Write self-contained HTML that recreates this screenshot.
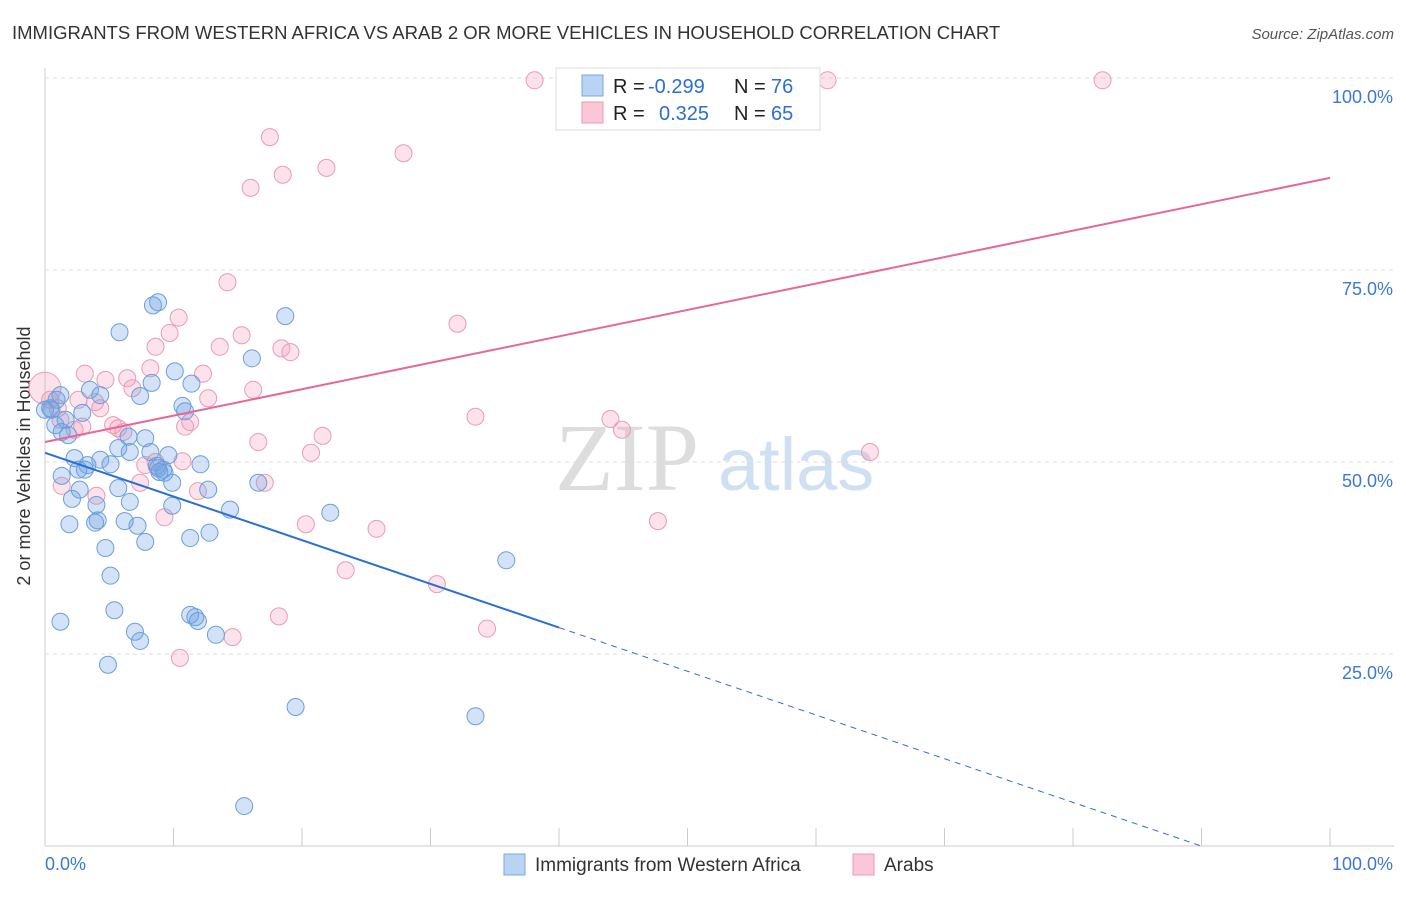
<!DOCTYPE html>
<html><head><meta charset="utf-8"><style>
body{margin:0;background:#fff;font-family:"Liberation Sans",sans-serif;}
svg text{font-family:"Liberation Sans",sans-serif;}
</style></head><body>
<svg id="chart" width="1406" height="892">
<text x="12" y="39" font-size="18.5" fill="#333">IMMIGRANTS FROM WESTERN AFRICA VS ARAB 2 OR MORE VEHICLES IN HOUSEHOLD CORRELATION CHART</text>
<text x="1394" y="39" font-size="15" fill="#555" text-anchor="end" font-style="italic">Source: ZipAtlas.com</text>
<text x="30" y="456" font-size="18" fill="#333" text-anchor="middle" transform="rotate(-90 30 456)">2 or more Vehicles in Household</text>
<g><text x="555" y="490" font-size="96" fill="#ddd" font-family="Liberation Serif" style="font-family:'Liberation Serif',serif">ZIP</text><text x="718" y="490" font-size="74" fill="#cfe0f3">atlas</text></g>
<g id="grid"></g><g id="marks"></g><g id="lines"></g>
<g>
<rect x="556" y="68" width="264" height="62" fill="#fff" stroke="#ddd"/>
<rect x="582" y="75" width="21" height="21" fill="#b9d3f3" stroke="#7aa7e0"/>
<rect x="582" y="102" width="21" height="21" fill="#f9c7d6" stroke="#ee9ab5"/>
<text x="613" y="93" font-size="20" fill="#222">R = </text><text x="648" y="93" font-size="20" fill="#2b6fd0">-0.299</text>
<text x="734" y="93" font-size="20" fill="#222">N = </text><text x="771" y="93" font-size="20" fill="#2b6fd0">76</text>
<text x="613" y="120" font-size="20" fill="#222">R = </text><text x="659" y="120" font-size="20" fill="#2b6fd0">0.325</text>
<text x="734" y="120" font-size="20" fill="#222">N = </text><text x="771" y="120" font-size="20" fill="#2b6fd0">65</text>
</g>
<g>
<rect x="504" y="854" width="21" height="21" fill="#b9d3f3" stroke="#7aa7e0"/>
<text x="535" y="871" font-size="19" fill="#333">Immigrants from Western Africa</text>
<rect x="853" y="854" width="21" height="21" fill="#f9c7d6" stroke="#ee9ab5"/>
<text x="884" y="871" font-size="19" fill="#333">Arabs</text>
</g>
</svg>
<script>
const blueX=[0.5,0.4,0.8,1.3,1.8,2.9,3.5,4.3,2.3,1.3,2.1,3.1,3.3,2.7,4.0,3.9,1.9,4.1,4.7,5.1,1.2,5.4,4.9,7.0,7.4,7.8,7.2,6.2,5.7,5.1,6.6,6.5,5.7,6.6,7.8,8.2,8.8,9.3,9.6,9.2,9.9,9.9,8.3,10.1,8.8,8.4,7.4,5.8,11.4,10.7,10.9,12.1,12.7,11.3,12.8,14.4,11.7,11.3,11.9,13.3,16.1,18.7,16.6,22.2,19.5,15.5,33.5,35.9,0.9,1.2,2.6,0,4.3,8.7,8.9,1.6];
const blueY=[56.8,57.0,54.8,53.9,53.5,56.4,59.4,58.7,50.5,48.2,45.2,49.0,49.6,46.4,44.4,42.1,41.9,42.4,38.8,35.2,29.2,30.7,23.6,27.9,26.7,39.6,41.7,42.3,46.6,49.7,44.8,53.3,51.8,51.3,53.1,51.3,49.2,48.6,50.9,49.0,47.3,44.3,60.3,61.8,70.8,70.4,58.6,66.9,60.2,57.3,56.6,49.7,46.4,40.1,40.8,43.8,29.8,30.1,29.3,27.5,63.5,69.0,47.3,43.4,18.1,5.2,16.9,37.2,58.1,58.7,49.0,56.8,50.3,49.5,48.7,55.5];
const pinkX=[0,0.4,1.2,2.3,2.9,2.6,4.3,3.1,4.7,6.4,6.8,5.3,5.7,6.1,8.6,8.2,9.7,10.4,10.9,11.3,12.3,12.7,13.6,14.2,15.3,16.2,16.6,17.1,11.9,10.7,9.3,7.8,8.6,7.4,4.0,1.3,17.5,16.0,18.5,21.9,27.9,18.4,19.1,21.6,20.7,20.3,23.4,25.8,32.1,33.5,44.0,44.9,47.7,64.2,30.5,34.4,18.2,14.6,10.5,38.1,47.1,60.9,82.3,3.9,1.0];
const pinkY=[59.6,58.1,55.5,54.2,54.6,58.1,57.0,61.5,60.7,60.9,59.6,54.8,54.4,53.9,65.0,62.2,66.8,68.8,54.6,55.2,61.5,58.3,65.0,73.4,66.5,59.4,52.6,47.3,46.2,50.1,42.8,49.6,50.0,47.3,45.6,46.9,92.3,85.7,87.4,88.3,90.2,64.8,64.3,53.4,51.2,41.9,35.9,41.3,68.0,55.9,55.6,54.2,42.3,51.3,34.1,28.3,29.9,27.2,24.5,99.7,99.7,99.7,99.7,57.8,57.0];
const blueTrend=[51.2,-0.569];
const pinkTrend=[52.6,0.344];
const yTicks=[25,50,75,100];
const xTicks=[0,10,20,30,40,50,60,70,80,90,100];
const NS="http://www.w3.org/2000/svg";
const X0=45,X1=1330,Y0=846,Y1=78;
const sx=v=>X0+(X1-X0)*v/100, sy=v=>Y0-(Y0-Y1)*v/100;
function mk(t,a,p){const e=document.createElementNS(NS,t);for(const k in a)e.setAttribute(k,a[k]);p.appendChild(e);return e;}
const grid=document.getElementById('grid'),marks=document.getElementById('marks'),lines=document.getElementById('lines');
mk('line',{x1:X0,y1:Y0,x2:X1+64,y2:Y0,stroke:'#ccc'},grid);
mk('line',{x1:X0,y1:68,x2:X0,y2:Y0,stroke:'#ccc'},grid);
yTicks.forEach(t=>{const l=mk('line',{x1:X0,y1:sy(t),x2:1394,y2:sy(t),stroke:'#ddd','stroke-dasharray':'4,4'},grid);

const tx=mk('text',{x:1393,y:sy(t)+25,'font-size':18,fill:'#3b78d8','text-anchor':'end'},grid);tx.textContent=t.toFixed(1)+'%';
});
xTicks.forEach(t=>{const l=mk('line',{x1:sx(t),y1:Y0,x2:sx(t),y2:Y0-18,stroke:'#ccc'},grid);
});
const xl=mk('text',{x:45,y:870,'font-size':18,fill:'#3b78d8'},grid);xl.textContent='0.0%';

const xr=mk('text',{x:1393,y:870,'font-size':18,fill:'#3b78d8','text-anchor':'end'},grid);xr.textContent='100.0%';

pinkX.forEach((v,i)=>{const c=mk('circle',{cx:sx(v),cy:sy(pinkY[i]),r:i===0?16:8.5,fill:'rgba(244,160,190,0.3)',stroke:'#eb9ab6','stroke-width':1},marks);
});
blueX.forEach((v,i)=>{const c=mk('circle',{cx:sx(v),cy:sy(blueY[i]),r:8.5,fill:'rgba(110,160,225,0.3)',stroke:'#6a9fdc','stroke-width':1},marks);
});
const bAt=x=>blueTrend[0]+blueTrend[1]*x, pAt=x=>pinkTrend[0]+pinkTrend[1]*x;
const zeroX=-blueTrend[0]/blueTrend[1];
const b1=mk('line',{x1:sx(0),y1:sy(bAt(0)),x2:sx(40),y2:sy(bAt(40)),stroke:'#2a6fd6','stroke-width':2},lines);

const b2=mk('line',{x1:sx(40),y1:sy(bAt(40)),x2:sx(zeroX),y2:sy(0),stroke:'#2a6fd6','stroke-width':1,'stroke-dasharray':'6,5'},lines);

const p1=mk('line',{x1:sx(0),y1:sy(pAt(0)),x2:sx(100),y2:sy(pAt(100)),stroke:'#e5689a','stroke-width':2},lines);

</script>
</body></html>
